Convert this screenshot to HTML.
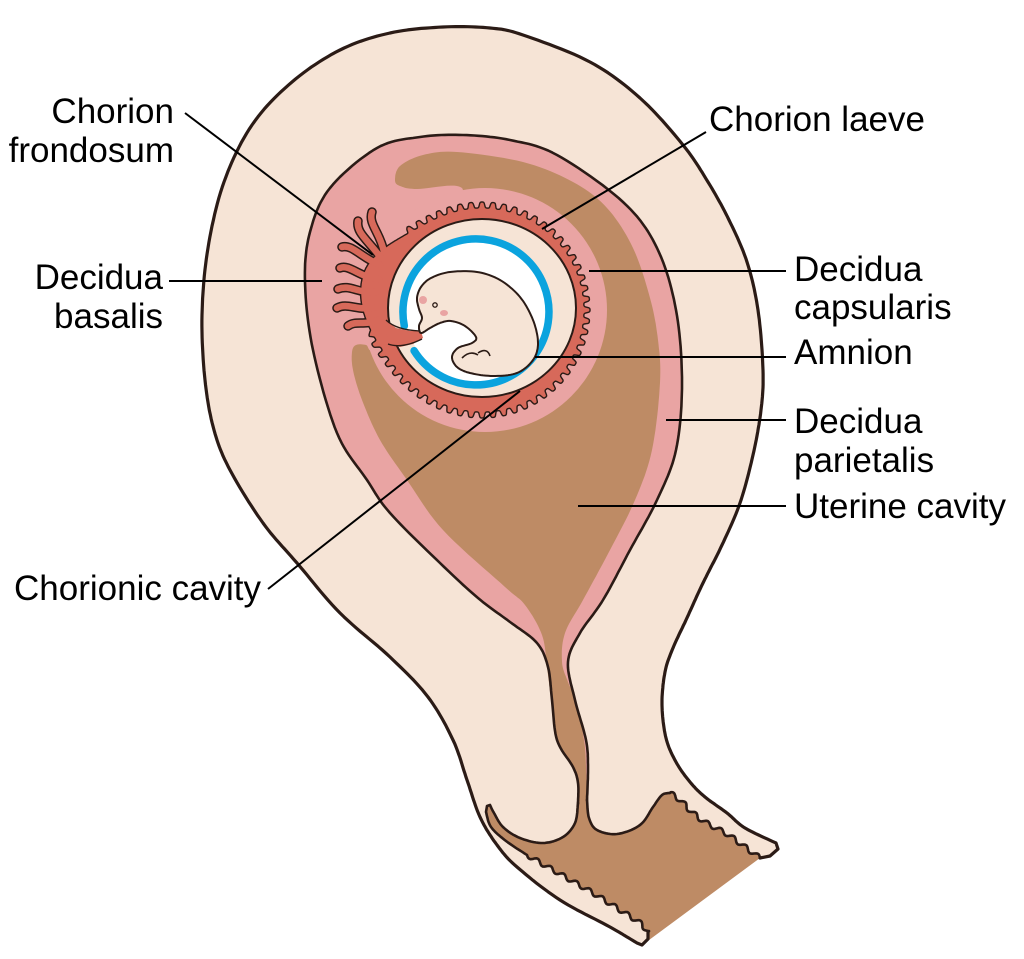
<!DOCTYPE html>
<html><head><meta charset="utf-8">
<style>
html,body{margin:0;padding:0;background:#fff;}
svg{display:block;}
text{font-family:"Liberation Sans",Arial,sans-serif;font-size:35px;fill:#000;}
</style></head>
<body>
<svg id="s" width="1024" height="959" viewBox="0 0 1024 959" xmlns="http://www.w3.org/2000/svg">
<g id="art"></g>
<g id="labels" stroke="#000" stroke-width="2" fill="none">
<line x1="185" y1="113" x2="373" y2="255"/>
<line x1="706" y1="132" x2="542" y2="229"/>
<line x1="169" y1="281" x2="322" y2="281"/>
<line x1="589" y1="271" x2="786" y2="271"/>
<line x1="535" y1="357" x2="786" y2="357"/>
<line x1="666" y1="420" x2="786" y2="420"/>
<line x1="578" y1="506" x2="786" y2="506"/>
<line x1="520" y1="391" x2="268" y2="589"/>
</g>
<g>
<text x="174" y="123" text-anchor="end">Chorion</text>
<text x="174" y="162" text-anchor="end">frondosum</text>
<text x="163" y="289" text-anchor="end">Decidua</text>
<text x="163" y="328" text-anchor="end">basalis</text>
<text x="709" y="131">Chorion laeve</text>
<text x="794" y="281">Decidua</text>
<text x="794" y="319">capsularis</text>
<text x="794" y="364">Amnion</text>
<text x="794" y="433">Decidua</text>
<text x="794" y="472">parietalis</text>
<text x="794" y="518">Uterine cavity</text>
<text x="14" y="600">Chorionic cavity</text>
</g>
</svg>
<script>
(function(){
var NS='http://www.w3.org/2000/svg';
var art=document.getElementById('art');
var C={cream:'#F6E4D6',pink:'#E9A4A3',brown:'#BE8B65',red:'#D7695A',blue:'#0BA3DE',line:'#2B1B16'};
function seg(p,closed,steps){
  steps=steps||12;var n=p.length,out=[];var m=closed?n:n-1;
  for(var i=0;i<m;i++){
    var p1=p[i],p2=p[(i+1)%n];
    var p0=closed?p[(i-1+n)%n]:(i>0?p[i-1]:p1);
    var p3=closed?p[(i+2)%n]:(i+2<n?p[i+2]:p2);
    var c1=[p1[0]+(p2[0]-p0[0])/6,p1[1]+(p2[1]-p0[1])/6];
    var c2=[p2[0]-(p3[0]-p1[0])/6,p2[1]-(p3[1]-p1[1])/6];
    for(var k=0;k<steps;k++){
      var t=k/steps,u=1-t;
      out.push([u*u*u*p1[0]+3*u*u*t*c1[0]+3*u*t*t*c2[0]+t*t*t*p2[0],
                u*u*u*p1[1]+3*u*u*t*c1[1]+3*u*t*t*c2[1]+t*t*t*p2[1]]);
    }
  }
  if(!closed)out.push(p[n-1]);
  return out;
}
function wav(p,amp,wl){
  var s=seg(p,false,30),out=[],L=0;
  for(var i=0;i<s.length;i++){
    if(i>0)L+=Math.hypot(s[i][0]-s[i-1][0],s[i][1]-s[i-1][1]);
    var a=s[Math.max(0,i-1)],b=s[Math.min(s.length-1,i+1)];
    var dx=b[0]-a[0],dy=b[1]-a[1],l=Math.hypot(dx,dy)||1;
    var o=amp*Math.sin(2*Math.PI*L/wl);
    out.push([s[i][0]-dy/l*o,s[i][1]+dx/l*o]);
  }
  return out;
}
function d(pts,close){return 'M'+pts.map(function(q){return q[0].toFixed(1)+','+q[1].toFixed(1);}).join('L')+(close?'Z':'');}
function el(tag,attrs){var e=document.createElementNS(NS,tag);for(var k in attrs)e.setAttribute(k,attrs[k]);art.appendChild(e);return e;}

/* outer uterus */
var outerPts=[[776,843],[745,828],[727,813],[705,797],[690,782],[676,762],[666,738],[662,705],[665,672],[673,648],[686,620],[703,583],[722,545],[740,503],[753,455],[761,410],[763,370],[758,310],[747,262],[729,220],[708,182],[683,145],[640,98],[590,62],[523,35],[490,28],[443,27],[390,33],[340,50],[292,82],[252,125],[224,182],[208,248],[202,315],[205,380],[214,430],[230,470],[263,523],[297,563],[340,613],[390,657],[428,697],[453,740],[467,780],[480,817],[497,845],[517,867],[560,900],[610,927],[637,943]];
var outerAll=[[760,858],[770,856],[778,849]].concat(seg(outerPts,false,12),[[642,945],[648,939],[648,932]]);
el('path',{d:d(outerAll,true),fill:C.cream,stroke:'none'});

/* decidua (pink) */
var innerPts=[[578,803],[578,783],[573,767],[557,740],[552,700],[548,667],[537,643],[510,622],[478,598],[440,563],[390,513],[367,480],[337,433],[313,350],[305,282],[310,232],[330,188],[377,148],[420,137],[463,135],[510,140],[557,155],[623,202],[657,248],[676,310],[682,383],[676,450],[657,500],[630,550],[603,600],[580,633],[568,662],[575,700],[586,740],[588,767],[587,800]];
var inner=seg(innerPts,false,12);
el('path',{d:d(inner,true),fill:C.pink});

/* uterine cavity (brown) */
var B=[[395,180],[400,166],[423,155],[457,152],[523,162],[573,182],[607,208],[633,248],[650,298],[658,340],[660,383],[652,450],[635,500],[610,550],[583,600],[565,633],[562,662],[568,682],[576,702],[584,740],[586,767],[586,798],[581,801],[577,783],[572,767],[556,740],[551,700],[547,667],[542,635],[525,605],[505,587],[443,530],[407,480],[380,440],[362,400],[353,370],[352,352],[356,345],[366,345],[374,349],[405,318],[450,255],[462,200],[457,186],[417,189],[400,186]];
el('path',{d:d(seg(B,true,10),true),fill:C.brown});

/* vagina lumen */
var rightWall=wav([[760,858],[745,847],[727,834],[705,822],[692,812],[680,800],[670,793]],2.2,15);
var fornix=seg([[670,793],[662,795],[653,807],[640,825],[617,834],[597,830],[589,818],[587,800]],false,10);
var antLip=seg([[578,803],[575,823],[563,837],[543,843],[520,838],[503,827],[494,813],[490,805]],false,10);
var hook=[[487,806],[486,812]];
var lower=seg([[486,812],[491,827],[506,841],[527,855]],false,10);
var lowerW=wav([[527,855],[560,874],[593,893],[620,910],[640,923],[648,932]],2.2,15);
var lumen=rightWall.concat(fornix,[[587,790],[578,790]],antLip,hook,lower,lowerW,[[645,943]]);
el('path',{d:d(lumen,true),fill:C.brown});

/* decidua capsularis */
el('circle',{cx:485,cy:310,r:122,fill:C.pink});

/* chorion frondosum fingers */
var fingers=['M372,212 C368,224 380,232 384,252','M358,221 C356,233 368,240 381,258','M342,247 C352,244 362,258 380,265','M340,268 C350,264 360,278 379,279','M338,289 C350,284 358,294 377,292','M337,308 C348,302 358,312 377,307','M348,326 C356,320 364,326 378,320'];
fingers.forEach(function(f){el('path',{d:f,fill:'none',stroke:C.line,'stroke-width':9.5,'stroke-linecap':'round'});});

/* chorion body */
var rc=[],N=1200,K=2.2,tk=Math.tanh(K);
for(var i=0;i<N;i++){
  var th=i/N*2*Math.PI,deg=th*180/Math.PI;
  var wd=deg<196?32:24;
  var ex=22*Math.exp(-Math.pow((deg-196)/wd,2));
  var w=Math.min(1,Math.max(0,(Math.abs(deg-197)-27)/4));
  var sq=(Math.tanh(K*Math.cos(60*th))+tk)/(2*tk);
  var bump=6*sq;
  var r=102+ex+bump*w;
  rc.push([482+r*Math.cos(th),310+r*Math.sin(th)]);
}
el('path',{d:d(rc,true),fill:C.red,stroke:C.line,'stroke-width':1.4,'stroke-linejoin':'round'});
fingers.forEach(function(f){el('path',{d:f,fill:'none',stroke:C.red,'stroke-width':6.5,'stroke-linecap':'round'});});

/* chorionic cavity */
el('ellipse',{cx:482,cy:308,rx:94,ry:89,fill:C.cream,stroke:C.line,'stroke-width':2});
/* amniotic cavity */
el('circle',{cx:476,cy:312,r:70,fill:'#fff'});
/* amnion */
el('path',{d:'M414.1,350.7 A73,73 0 1 0 404.3,325.9',fill:'none',stroke:C.blue,'stroke-width':7.5,'stroke-linecap':'round'});
/* connecting stalk */
el('path',{d:'M385,319 L396,328 L410,331 L421,331 L423,338 L413,344 L400,347 L388,344 Z',fill:C.red});
el('path',{d:'M386,320 Q396,330 420,331',fill:'none',stroke:C.line,'stroke-width':1.3});
el('path',{d:'M388,344 Q402,349 422,339',fill:'none',stroke:C.line,'stroke-width':1.3});

/* embryo */
var emb=[[417,298],[421,287],[431,278],[450,272],[477,272],[500,280],[520,297],[533,320],[538,343],[533,360],[517,373],[493,376],[470,373],[457,367],[452,357],[458,348],[472,343],[476,337],[465,326],[451,321],[440,323],[430,328],[421,333],[419,326],[422,318],[419,309]];
el('path',{d:d(seg(emb,true,10),true),fill:C.cream,stroke:C.line,'stroke-width':2,'stroke-linejoin':'round'});
el('ellipse',{cx:423,cy:300,rx:4,ry:4,fill:C.pink});
el('ellipse',{cx:444,cy:313,rx:4,ry:3,fill:C.pink});
el('circle',{cx:435,cy:305,r:2.2,fill:'none',stroke:C.line,'stroke-width':1.3});
el('path',{d:'M478,353 q9,-6 12,3',fill:'none',stroke:C.line,'stroke-width':1.6});
el('path',{d:'M462,358 q8,-8 16,-3',fill:'none',stroke:C.line,'stroke-width':1.6});

/* outlines */
var S={fill:'none',stroke:C.line,'stroke-linejoin':'round','stroke-linecap':'round'};
function st(pts,wd){var a={};for(var k in S)a[k]=S[k];a.d=d(pts,false);a['stroke-width']=wd;el('path',a);}
st(inner,2.6);
st(outerAll,3.2);
st(rightWall.concat(fornix),2.6);
st(antLip.concat(hook,lower,lowerW),2.6);
})();
</script>
</body></html>
